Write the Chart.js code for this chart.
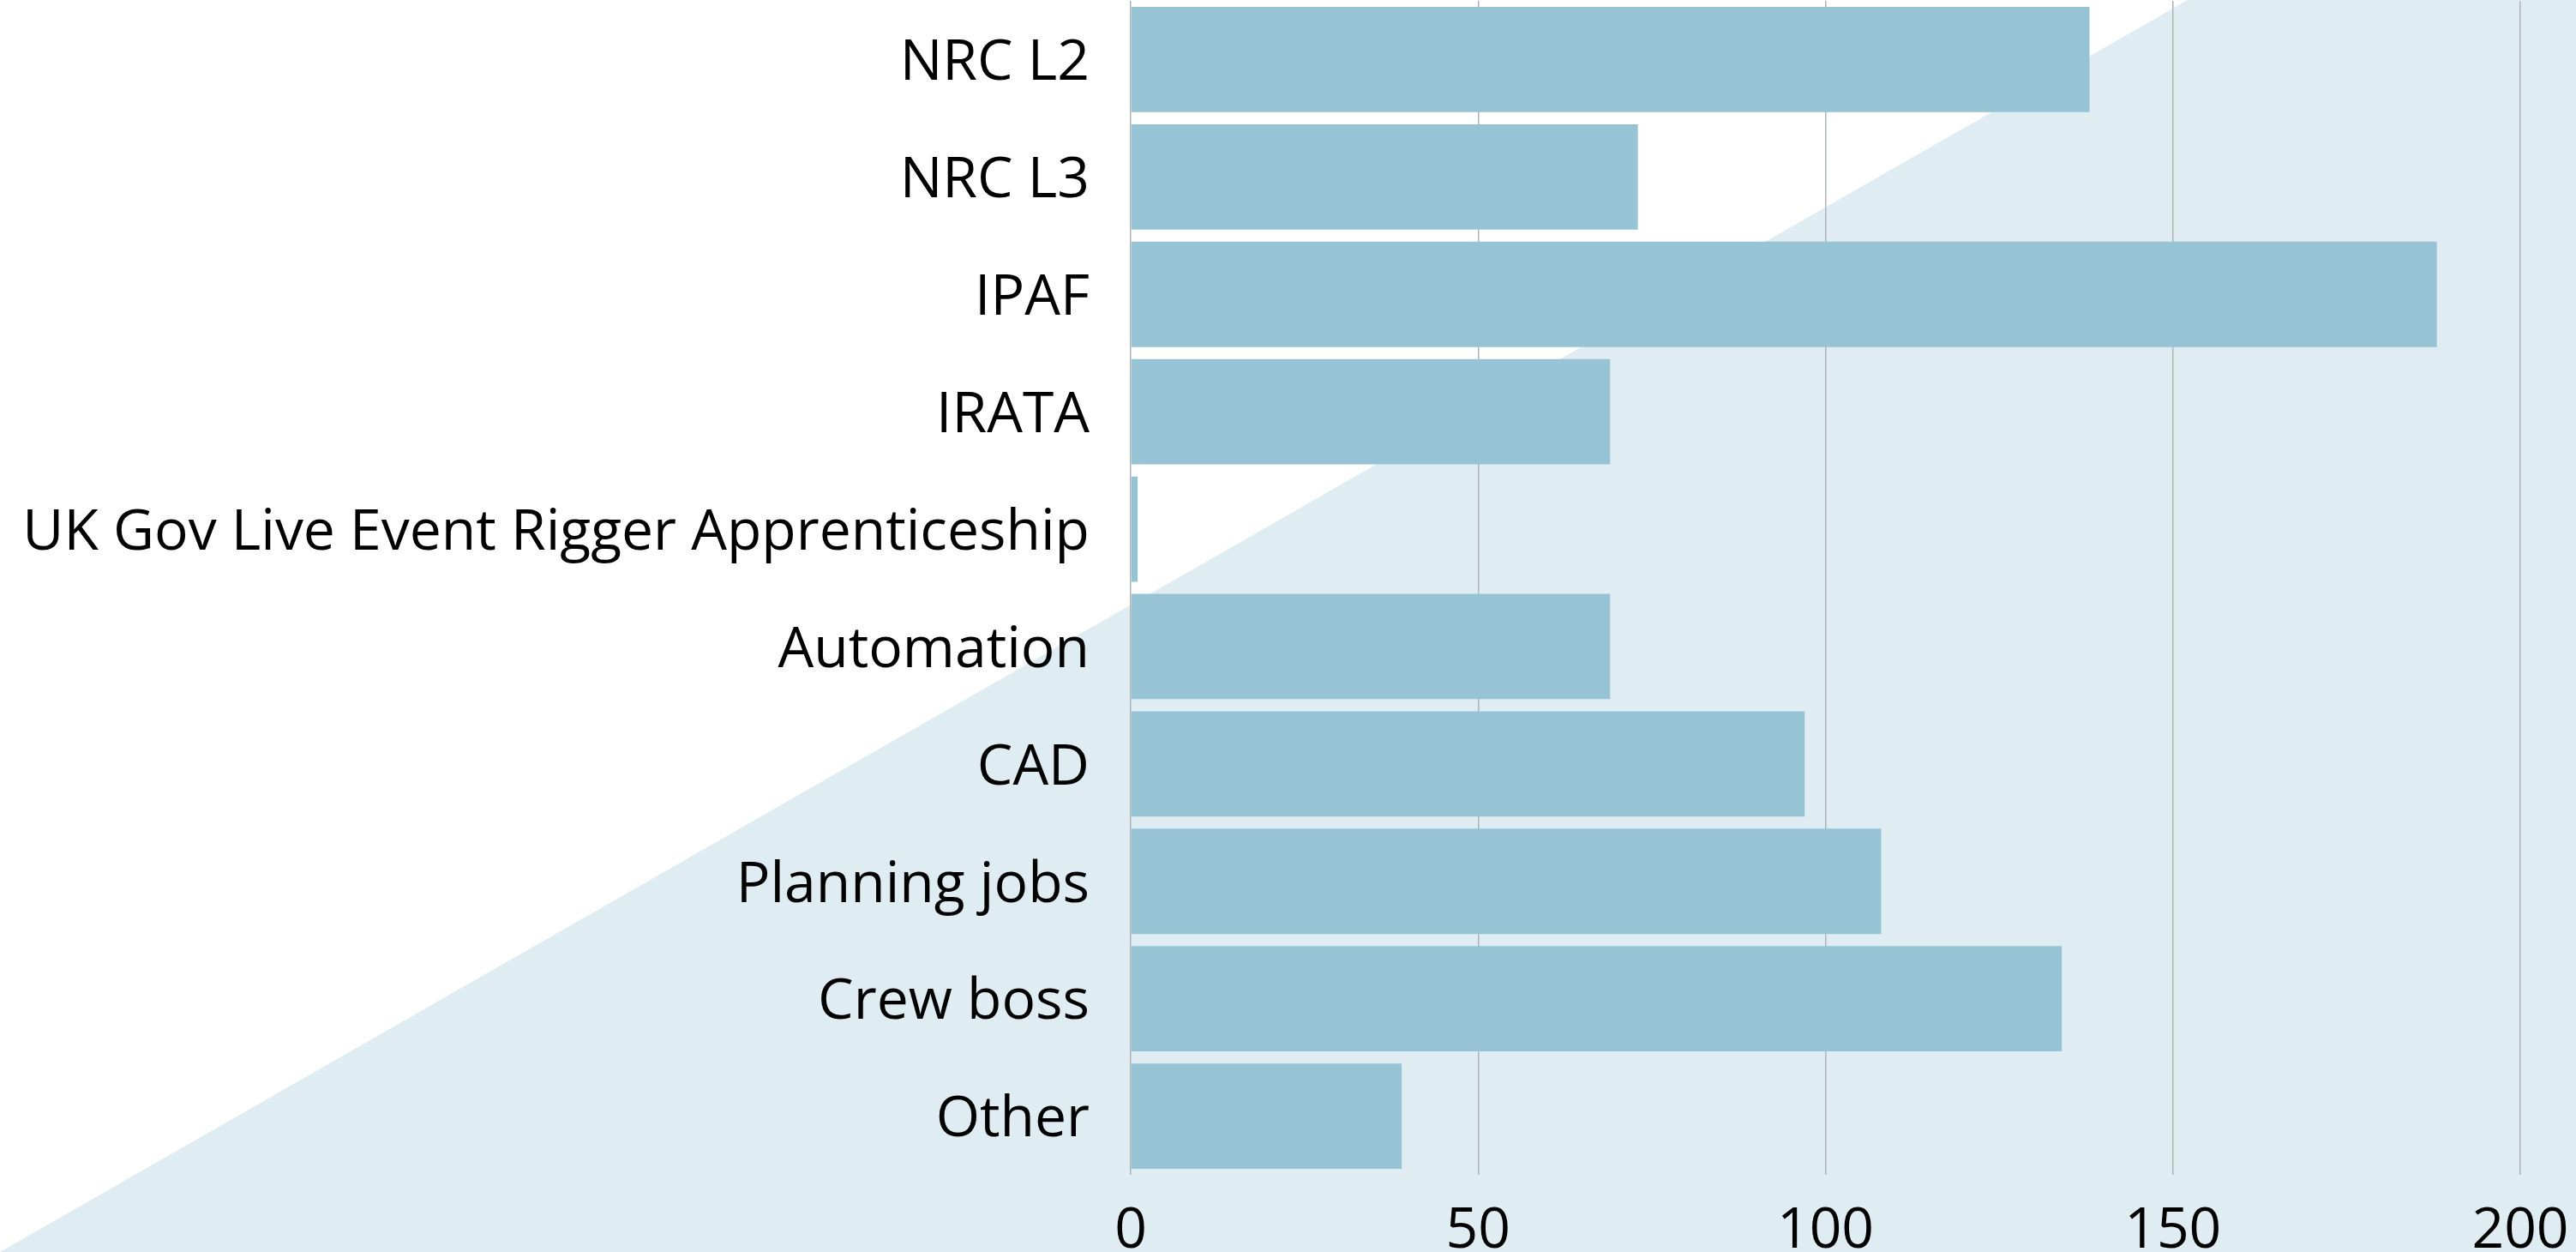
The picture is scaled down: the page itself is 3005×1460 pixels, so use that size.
<!DOCTYPE html>
<html>
<head>
<meta charset="utf-8">
<script src="https://cdn.jsdelivr.net/npm/chart.js@4/dist/chart.umd.min.js"></script>
<style>
  html, body { margin: 0; padding: 0; background: #ffffff; }
  #wrap { position: relative; width: 3005px; height: 1460px; overflow: hidden; }
  #shade {
    position: absolute; left: 0; top: 0; width: 3005px; height: 1460px;
    background: #dfecf2;
    clip-path: polygon(0px 1460px, 2552px 0px, 3005px 0px, 3005px 1460px);
  }
  #chart-box { position: absolute; left: 0; top: 0; width: 3005px; height: 1460px; }
</style>
</head>
<body>
<div id="wrap">
  <div id="shade"></div>
  <div id="chart-box"><canvas id="chart-area"></canvas></div>
</div>
<script>
var categorias = ['NRC L2', 'NRC L3', 'IPAF', 'IRATA', 'UK Gov Live Event Rigger Apprenticeship',
                  'Automation', 'CAD', 'Planning jobs', 'Crew boss', 'Other'];
var valores = [138, 73, 188, 69, 1, 69, 97, 108, 134, 39];
var ticksX = [0, 50, 100, 150, 200];

var corBarra = '#97c4d4';
var corGrade = '#adb3b7';
var fonte = { family: "'Open Sans'", size: 66 };

var ctx = document.getElementById('chart-area').getContext('2d');
var config = {
	type: 'bar',
	data: {
		labels: categorias,
		datasets: [{
			data: valores,
			backgroundColor: corBarra,
			borderWidth: 0,
			categoryPercentage: 1,
			barPercentage: 0.897
		}]
	},
	options: {
		indexAxis: 'y',
		responsive: true,
		maintainAspectRatio: false,
		animation: false,
		layout: { padding: { top: 1, right: 65, bottom: 0, left: 0 } },
		plugins: {
			legend: { display: false },
			tooltip: { enabled: false }
		},
		scales: {
			x: {
				min: 0,
				max: 200,
				afterBuildTicks: function (scale) {
					scale.ticks = ticksX.map(v => ({ value: v }));
				},
				afterFit: function (scale) {
					scale.height = 90;
					scale.paddingLeft = 0;
					scale.paddingRight = 0;
				},
				grid: { color: corGrade, lineWidth: 1.5, drawTicks: false },
				border: { display: false },
				ticks: { color: '#000000', padding: 27, font: fonte }
			},
			y: {
				afterFit: function (scale) {
					scale.width = 1319;
					scale.paddingTop = 0;
					scale.paddingBottom = 0;
				},
				grid: { display: false, drawTicks: false },
				border: { display: false },
				ticks: { color: '#000000', padding: 48, labelOffset: 5, font: fonte }
			}
		}
	}
};
window.myBar = new Chart(ctx, config);
</script>
</body>
</html>
